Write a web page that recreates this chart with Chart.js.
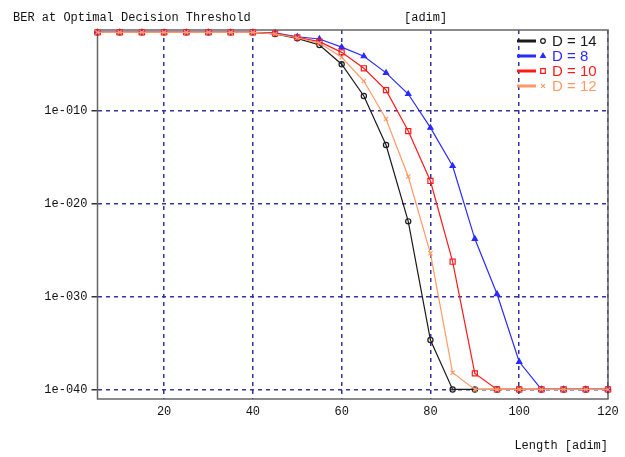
<!DOCTYPE html>
<html>
<head>
<meta charset="utf-8">
<script src="https://cdn.jsdelivr.net/npm/chart.js@4"></script>
<style>
  html, body { margin: 0; padding: 0; background: #ffffff; }
  #berChart { display: block; }
</style>
</head>
<body>
<canvas id="berChart" width="625" height="457"></canvas>
<script>
// --- datos ---
const lengths = [5, 10, 15, 20, 25, 30, 35, 40, 45, 50, 55, 60, 65, 70, 75, 80, 85, 90, 95, 100, 105, 110, 115, 120];

const berD14 = [3.0e-2, 3.0e-2, 3.0e-2, 3.0e-2, 3.0e-2, 3.0e-2, 3.0e-2, 3.0e-2,
  2.0e-2, 6.8e-3, 1.3e-3, 1.1e-5, 4.2e-9, 2.2e-14, 1.3e-22, 2.1e-35,
  1e-40, 1e-40, 1e-40, 1e-40, 1e-40, 1e-40, 1e-40, 1e-40];
const berD8 = [3.0e-2, 3.0e-2, 3.0e-2, 3.0e-2, 3.0e-2, 3.0e-2, 3.0e-2, 3.0e-2,
  2.6e-2, 1.0e-2, 5.8e-3, 7.6e-4, 8.0e-5, 1.3e-6, 6.8e-9, 1.6e-12,
  1.2e-16, 1.7e-24, 1.9e-30, 9.5e-38, 1e-40, 1e-40, 1e-40, 1e-40];
const berD10 = [3.0e-2, 3.0e-2, 3.0e-2, 3.0e-2, 3.0e-2, 3.0e-2, 3.0e-2, 3.0e-2,
  2.3e-2, 8.7e-3, 3.0e-3, 2.1e-4, 4.0e-6, 1.8e-8, 6.9e-13, 2.9e-18,
  5.8e-27, 5.4e-39, 1e-40, 1e-40, 1e-40, 1e-40, 1e-40, 1e-40];
const berD12 = [3.0e-2, 3.0e-2, 3.0e-2, 3.0e-2, 3.0e-2, 3.0e-2, 3.0e-2, 3.0e-2,
  2.1e-2, 7.8e-3, 2.1e-3, 6.2e-5, 1.7e-7, 1.4e-11, 8.7e-18, 4.7e-26,
  6.3e-39, 1e-40, 1e-40, 1e-40, 1e-40, 1e-40, 1e-40, 1e-40];

const seriesLabels = ['D = 14', 'D = 8', 'D = 10', 'D = 12'];
const xTicks = [20, 40, 60, 80, 100, 120];
const yTicks = [1e-10, 1e-20, 1e-30, 1e-40];
const yTickLabels = ['1e-010', '1e-020', '1e-030', '1e-040'];

const monoFont = '"Liberation Mono", "DejaVu Sans Mono", monospace';

// --- estilos de cada serie ---
const seriesData = [berD14, berD8, berD10, berD12];
const seriesColors = ['#1a1a1a', '#2b2bff', '#ff1a1a', '#ff9966'];
const seriesPoints = ['circle', 'triangle', 'rect', 'crossRot'];
const seriesRadius = [2.6, 3, 3.6, 3];
const seriesFill = ['rgba(0,0,0,0)', '#2b2bff', 'rgba(0,0,0,0)', 'rgba(0,0,0,0)'];
const seriesOrder = [3, 2, 1, 0];

const datasets = seriesData.map((vals, i) => ({
  label: seriesLabels[i],
  data: lengths.map((x, j) => ({ x: x, y: vals[j] })),
  borderColor: seriesColors[i],
  backgroundColor: seriesFill[i],
  pointBorderColor: seriesColors[i],
  pointBackgroundColor: seriesFill[i],
  pointStyle: seriesPoints[i],
  pointRadius: seriesRadius[i],
  pointBorderWidth: 1.2,
  borderWidth: 1.2,
  tension: 0,
  order: seriesOrder[i],
  clip: false
}));

// marco, textos y leyenda dibujados a mano
const decorPlugin = {
  id: 'decor',
  beforeDatasetsDraw(chart) {
    const { ctx, chartArea: a } = chart;
    ctx.save();
    ctx.strokeStyle = '#666666';
    ctx.lineWidth = 1.5;
    ctx.strokeRect(a.left, a.top, a.right - a.left, a.bottom - a.top);
    ctx.restore();
  },
  afterDraw(chart) {
    const { ctx, chartArea: a } = chart;
    ctx.save();
    ctx.fillStyle = '#111111';
    ctx.font = '12px ' + monoFont;
    ctx.textBaseline = 'middle';
    ctx.textAlign = 'left';
    ctx.fillText('BER at Optimal Decision Threshold', 13, 18);
    ctx.fillText('[adim]', 404, 18);
    ctx.textAlign = 'right';
    ctx.fillText('Length [adim]', a.right, 446);

    // leyenda
    seriesLabels.forEach((lab, i) => {
      const y = a.top + 11 + i * 15;
      const col = seriesColors[i];
      ctx.strokeStyle = col;
      ctx.lineWidth = 3;
      ctx.beginPath();
      ctx.moveTo(a.right - 91, y);
      ctx.lineTo(a.right - 72, y);
      ctx.stroke();
      ctx.lineWidth = 1.2;
      ctx.fillStyle = seriesFill[i];
      Chart.helpers.drawPoint(ctx, { pointStyle: seriesPoints[i], radius: seriesRadius[i] * 0.9, borderWidth: 1.2 }, a.right - 65, y);
      ctx.fillStyle = col;
      ctx.font = '15px "Liberation Sans", Arial, sans-serif';
      ctx.textAlign = 'left';
      ctx.fillText(lab, a.right - 56, y + 1);
    });
    ctx.restore();
  }
};

new Chart(document.getElementById('berChart').getContext('2d'), {
  type: 'line',
  data: { datasets: datasets },
  options: {
    responsive: false,
    animation: false,
    devicePixelRatio: 1,
    layout: { padding: { top: 30, right: 17, left: 0, bottom: 0 } },
    plugins: { legend: { display: false }, tooltip: { enabled: false }, title: { display: false } },
    scales: {
      x: {
        type: 'linear',
        min: 5,
        max: 120,
        afterBuildTicks: (scale) => { scale.ticks = xTicks.map(v => ({ value: v })); },
        afterFit: (scale) => { scale.height = 58; },
        grid: { color: '#333399', lineWidth: 1.5, drawTicks: false },
        border: { display: false, dash: [4, 4] },
        ticks: { color: '#111111', font: { family: monoFont, size: 12 }, padding: 6, maxRotation: 0 }
      },
      y: {
        type: 'logarithmic',
        min: Math.pow(10, -41.03),
        max: Math.pow(10, -1.27),
        afterBuildTicks: (scale) => { scale.ticks = yTicks.map(v => ({ value: v })); },
        afterFit: (scale) => { scale.width = 97.5; },
        grid: { color: '#333399', lineWidth: 1.5, tickLength: 6, tickColor: '#333333' },
        border: { display: false, dash: [4, 4] },
        ticks: {
          color: '#111111',
          font: { family: monoFont, size: 12 },
          padding: 4,
          callback: (v) => { const k = yTicks.indexOf(v); return k >= 0 ? yTickLabels[k] : ''; }
        }
      }
    }
  },
  plugins: [decorPlugin]
});
</script>
</body>
</html>
